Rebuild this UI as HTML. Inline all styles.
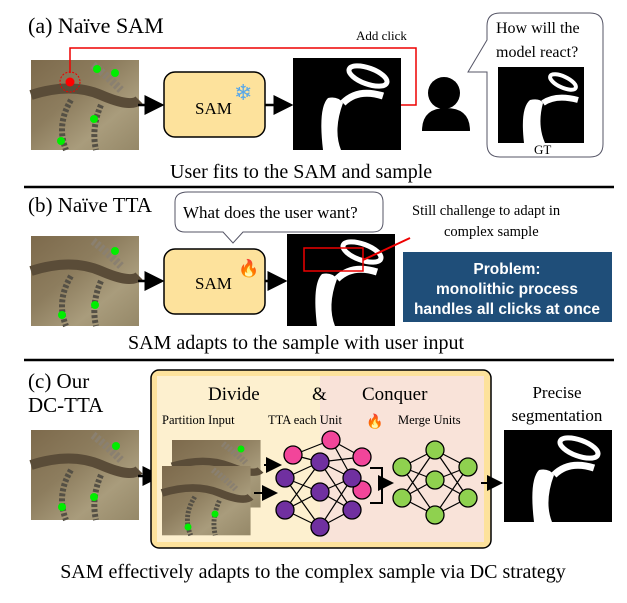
<!DOCTYPE html>
<html><head><meta charset="utf-8"><style>
body{margin:0;background:#fff;}
svg text{font-family:"Liberation Serif",serif;fill:#000;}
</style></head><body>
<svg width="627" height="598" viewBox="0 0 627 598" xmlns="http://www.w3.org/2000/svg" font-family="Liberation Serif, serif">
<defs>
<linearGradient id="ph" x1="0" y1="0" x2="1" y2="1">
<stop offset="0" stop-color="#7d6a4c"/><stop offset="0.4" stop-color="#8d7d5e"/><stop offset="0.7" stop-color="#a99c7c"/><stop offset="1" stop-color="#958868"/></linearGradient>
<g id="photo">
<rect width="108" height="90" fill="url(#ph)"/>
<path d="M0 35 Q40 22 70 35 T108 40" stroke="#5a4c38" stroke-width="10" fill="none"/>
<path d="M62 5 Q75 15 90 30" stroke="#8a8070" stroke-width="8" fill="none" stroke-dasharray="3 2"/>
<path d="M40 40 Q25 65 35 90" stroke="#555045" stroke-width="6" fill="none" stroke-dasharray="3 2"/>
<path d="M70 45 Q60 68 65 90" stroke="#555045" stroke-width="6" fill="none" stroke-dasharray="3 2"/>
</g>
<g id="mask">
<rect width="108" height="92" fill="#000"/>
<path d="M30 92 Q25 50 35 40 Q45 38 50 45 Q40 72 48 92" fill="#fff"/>
<path d="M50 45 Q65 30 90 38" stroke="#fff" stroke-width="7" fill="none"/>
<ellipse cx="75" cy="18" rx="20" ry="8" transform="rotate(20 75 18)" stroke="#fff" stroke-width="5" fill="none"/>
</g>
<marker id="ar" markerWidth="8" markerHeight="8" refX="7" refY="4" orient="auto"><path d="M0 0L8 4L0 8z" fill="#000"/></marker>
</defs>

<!-- (a) -->
<text x="28" y="33" font-size="22">(a) Naïve SAM</text>
<use href="#photo" x="31" y="60"/>
<circle cx="70" cy="82" r="10" fill="none" stroke="#e00" stroke-dasharray="2 1.5"/>
<circle cx="70" cy="82" r="4.5" fill="#f00"/>
<circle cx="97" cy="69" r="4" fill="#0e0"/><circle cx="115" cy="73" r="4" fill="#0e0"/>
<circle cx="94" cy="119" r="4" fill="#0e0"/><circle cx="61" cy="141" r="4" fill="#0e0"/>
<polyline points="70,73 70,48 416,48 416,105 401,105" fill="none" stroke="#e00" stroke-width="1.5"/>
<text x="356" y="40" font-size="13">Add click</text>
<line x1="138" y1="105" x2="162" y2="105" stroke="#000" stroke-width="2.5" marker-end="url(#ar)"/>
<rect x="164" y="72" width="101" height="65" rx="11" fill="#fde29c" stroke="#000" stroke-width="1.5"/>
<text x="195" y="114" font-size="17">SAM</text>
<text x="234" y="100" font-size="22" style="fill:#5aa8e8">❄</text>
<line x1="265" y1="105" x2="291" y2="105" stroke="#000" stroke-width="2.5" marker-end="url(#ar)"/>
<use href="#mask" x="293" y="58"/>
<circle cx="444" cy="93" r="16" fill="#000"/>
<path d="M422 131 Q422 108 446 108 Q470 108 470 131 Z" fill="#000"/>
<path d="M500 13 H590 Q603 13 603 26 V144 Q603 157 590 157 H500 Q487 157 487 144 V72 L468 72 L487 40 V26 Q487 13 500 13Z" fill="#fff" stroke="#556" stroke-width="1"/>
<text x="496" y="33" font-size="16">How will the</text>
<text x="496" y="57" font-size="16">model react?</text>
<rect x="498" y="67" width="86" height="76" fill="#000"/>
<path d="M524 143 Q520 108 530 100 Q540 98 543 103 Q537 125 545 143" fill="#fff"/>
<path d="M543 103 Q556 94 578 100" stroke="#fff" stroke-width="6" fill="none"/>
<ellipse cx="563" cy="82" rx="14" ry="5.5" transform="rotate(25 563 82)" stroke="#fff" stroke-width="4" fill="none"/>
<text x="534" y="154" font-size="13">GT</text>
<text x="170" y="178" font-size="20">User fits to the SAM and sample</text>
<line x1="24" y1="187" x2="614" y2="187" stroke="#000" stroke-width="2.5"/>

<!-- (b) -->
<text x="28" y="212" font-size="21">(b) Naïve TTA</text>
<use href="#photo" x="31" y="236"/>
<circle cx="115" cy="251" r="4" fill="#0e0"/><circle cx="95" cy="305" r="4" fill="#0e0"/><circle cx="62" cy="315" r="4" fill="#0e0"/>
<path d="M188 192 H373 Q383 192 383 202 V222 Q383 232 373 232 H243 L233 243 L223 232 H185 Q175 232 175 222 V202 Q175 192 188 192Z" fill="#fff" stroke="#556"/>
<text x="183" y="218" font-size="17">What does the user want?</text>
<text x="412" y="215" font-size="14.5">Still challenge to adapt in</text>
<text x="444" y="236" font-size="14.5">complex sample</text>
<line x1="138" y1="281" x2="162" y2="281" stroke="#000" stroke-width="2.5" marker-end="url(#ar)"/>
<rect x="164" y="249" width="101" height="65" rx="11" fill="#fde29c" stroke="#000" stroke-width="1.5"/>
<text x="195" y="289" font-size="17">SAM</text>
<text x="238" y="274" font-size="17">🔥</text>
<line x1="265" y1="281" x2="285" y2="281" stroke="#000" stroke-width="2.5" marker-end="url(#ar)"/>
<use href="#mask" x="287" y="234"/>
<rect x="304" y="248" width="59" height="23" fill="none" stroke="#e00" stroke-width="1.5"/>
<line x1="363" y1="260" x2="410" y2="238" stroke="#e00" stroke-width="2"/>
<rect x="403" y="252" width="209" height="70" fill="#1f4e79"/>
<text x="507" y="274" font-size="15.5" text-anchor="middle" font-weight="bold" style="fill:#fff;font-family:'Liberation Sans',sans-serif">Problem:</text>
<text x="507" y="294" font-size="15.5" text-anchor="middle" font-weight="bold" style="fill:#fff;font-family:'Liberation Sans',sans-serif">monolithic process</text>
<text x="507" y="314" font-size="15.5" text-anchor="middle" font-weight="bold" style="fill:#fff;font-family:'Liberation Sans',sans-serif">handles all clicks at once</text>
<text x="128" y="349" font-size="20" style="font-family:'Liberation Serif',serif">SAM adapts to the sample with user input</text>
<line x1="24" y1="360" x2="614" y2="360" stroke="#000" stroke-width="2.5"/>

<!-- (c) -->
<text x="28" y="388" font-size="21">(c) Our</text>
<text x="28" y="412" font-size="21">DC-TTA</text>
<use href="#photo" x="31" y="430"/>
<circle cx="116" cy="446" r="4" fill="#0e0"/><circle cx="94" cy="497" r="4" fill="#0e0"/><circle cx="62" cy="507" r="4" fill="#0e0"/>
<line x1="138" y1="476" x2="160" y2="476" stroke="#000" stroke-width="2.5" marker-end="url(#ar)"/>
<rect x="151" y="370" width="340" height="178" rx="8" fill="#fde29c" stroke="#000" stroke-width="1.5"/>
<rect x="157" y="376" width="163" height="166" fill="#fdf0cf"/>
<rect x="320" y="376" width="164" height="166" fill="#f9e3d9"/>
<text x="208" y="400" font-size="19">Divide</text>
<text x="312" y="400" font-size="19">&amp;</text>
<text x="362" y="400" font-size="19">Conquer</text>
<text x="162" y="424" font-size="12.5">Partition Input</text>
<text x="268" y="424" font-size="12.5">TTA each Unit</text>
<text x="366" y="426" font-size="14">🔥</text>
<text x="398" y="424" font-size="12.5">Merge Units</text>
<g transform="translate(172,440) scale(0.82,0.75)"><use href="#photo"/></g>
<g transform="translate(162,466) scale(0.82,0.77)"><use href="#photo"/></g>
<circle cx="241" cy="449" r="3.5" fill="#0e0"/><circle cx="215" cy="514" r="3.5" fill="#0e0"/><circle cx="188" cy="527" r="3.5" fill="#0e0"/>
<line x1="264" y1="465" x2="280" y2="465" stroke="#000" stroke-width="2" marker-end="url(#ar)"/>
<line x1="254" y1="493" x2="276" y2="493" stroke="#000" stroke-width="2" marker-end="url(#ar)"/>
<g stroke="#000" stroke-width="1.2">
<path d="M285 478L320 462M285 478L320 492M285 478L320 527M285 510L320 462M285 510L320 492M285 510L320 527M293 455L331 440M293 455L320 462M320 462L352 478M320 462L352 510M320 492L352 478M320 492L352 510M320 527L352 478M320 527L352 510M331 440L362 457M331 440L352 478M320 462L362 457M352 478L362 490"/>
<path d="M402 467L435 450M402 467L435 480M402 467L435 515M402 498L435 450M402 498L435 480M402 498L435 515M468 467L435 450M468 467L435 480M468 467L435 515M468 498L435 450M468 498L435 480M468 498L435 515"/>
</g>
<g stroke="#000" stroke-width="1.3">
<circle cx="331" cy="440" r="9" fill="#f2459a"/><circle cx="293" cy="455" r="9" fill="#f2459a"/><circle cx="362" cy="457" r="9" fill="#f2459a"/><circle cx="362" cy="490" r="9" fill="#f2459a"/>
<circle cx="285" cy="478" r="9" fill="#7030a0"/><circle cx="320" cy="462" r="9" fill="#7030a0"/><circle cx="352" cy="478" r="9" fill="#7030a0"/><circle cx="320" cy="492" r="9" fill="#7030a0"/><circle cx="285" cy="510" r="9" fill="#7030a0"/><circle cx="352" cy="510" r="9" fill="#7030a0"/><circle cx="320" cy="527" r="9" fill="#7030a0"/>
<g fill="#8fd14f"><circle cx="402" cy="467" r="9"/><circle cx="435" cy="450" r="9"/><circle cx="468" cy="467" r="9"/><circle cx="435" cy="480" r="9"/><circle cx="402" cy="498" r="9"/><circle cx="468" cy="498" r="9"/><circle cx="435" cy="515" r="9"/></g>
</g>
<polyline points="370,468 382,468 382,503 370,503" fill="none" stroke="#000" stroke-width="2"/>
<line x1="382" y1="483" x2="392" y2="483" stroke="#000" stroke-width="2" marker-end="url(#ar)"/>
<line x1="481" y1="483" x2="501" y2="483" stroke="#000" stroke-width="2" marker-end="url(#ar)"/>
<text x="557" y="398" font-size="17" text-anchor="middle">Precise</text>
<text x="557" y="421" font-size="17" text-anchor="middle">segmentation</text>
<use href="#mask" x="504" y="430"/>
<text x="313" y="578" font-size="20" text-anchor="middle">SAM effectively adapts to the complex sample via DC strategy</text>
</svg>
</body></html>
